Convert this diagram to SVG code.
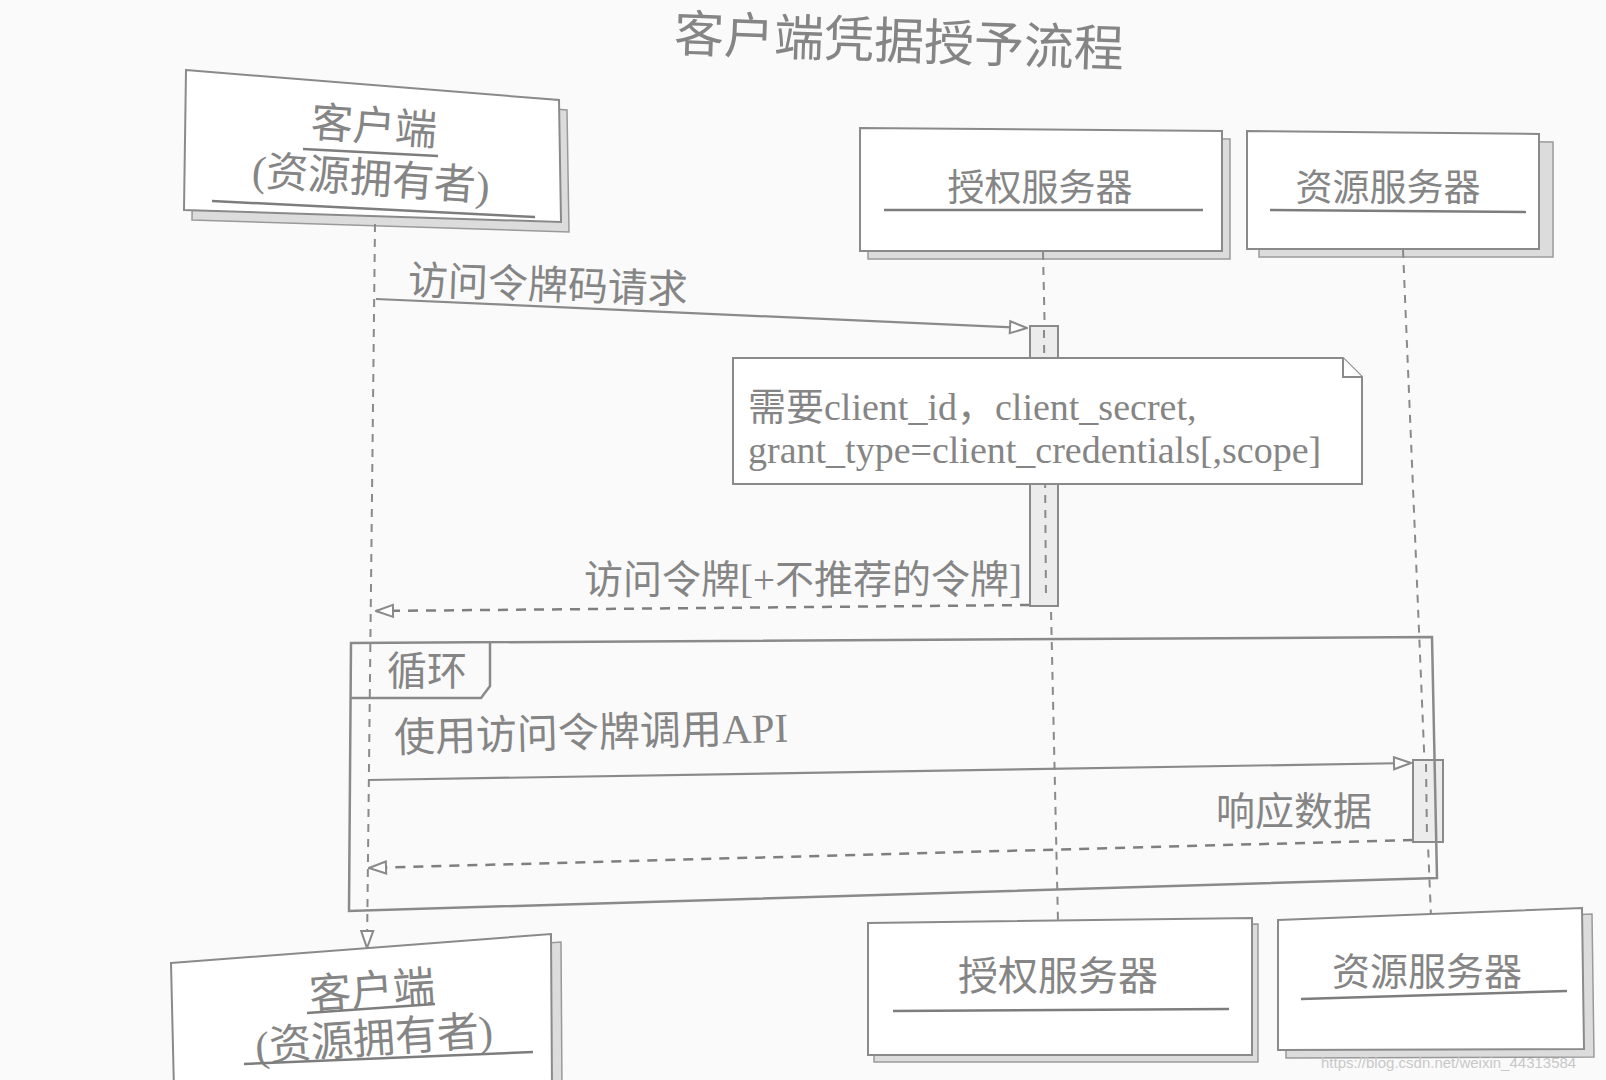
<svg xmlns="http://www.w3.org/2000/svg" width="1606" height="1080" viewBox="0 0 1606 1080">
<defs>
<style>
.bg{fill:#fafafa}
.box{fill:#ffffff;stroke:#8a8a8a;stroke-width:2}
.shadow{fill:#dcdcdc;stroke:#9a9a9a;stroke-width:1.5}
.ul{stroke:#7d7d7d;stroke-width:2.5;fill:none}
.cjk{font-family:"Liberation Serif","Noto Sans CJK SC",serif;fill:#858585}
.life{stroke:#8a8a8a;stroke-width:2;stroke-dasharray:8 7;fill:none}
.msg{stroke:#8a8a8a;stroke-width:2.2;fill:none}
.ret{stroke:#7f7f7f;stroke-width:2.5;stroke-dasharray:10 8;fill:none}
.act{fill:#ececec;stroke:#8a8a8a;stroke-width:2}
.frame{fill:none;stroke:#8a8a8a;stroke-width:2.5}
.note{fill:#ffffff;stroke:#8a8a8a;stroke-width:2}
</style>
<marker id="arr" viewBox="0 0 20 16" refX="19" refY="8" markerWidth="20" markerHeight="16" markerUnits="userSpaceOnUse" orient="auto">
<path d="M2,2 L19,8 L2,14 Z" fill="#ffffff" stroke="#8a8a8a" stroke-width="2"/>
</marker>
</defs>
<rect class="bg" x="0" y="0" width="1606" height="1080"/>

<text class="cjk" x="899" y="59" font-size="50" text-anchor="middle" fill="#9a9a9a" transform="rotate(2 899 42)">客户端凭据授予流程</text>

<g id="client-top">
<polygon class="shadow" points="194,80 567,110 569,232 192,220"/>
<polygon class="box" points="186,70 559,100 561,222 184,210"/>
<text class="cjk" x="374" y="141" font-size="42" text-anchor="middle" transform="rotate(4 374 126)">客户端</text>
<line class="ul" x1="303" y1="149" x2="438" y2="156"/>
<text class="cjk" x="371" y="193" font-size="42" text-anchor="middle" transform="rotate(4 371 178)">(资源拥有者)</text>
<line class="ul" x1="212" y1="201" x2="535" y2="217"/>
</g>

<g id="auth-top">
<polygon class="shadow" points="868,136 1230,139 1230,259 868,259"/>
<polygon class="box" points="860,128 1222,131 1222,251 860,251"/>
<text class="cjk" x="1040" y="201" font-size="37" text-anchor="middle">授权服务器</text>
<line class="ul" x1="884" y1="210" x2="1203" y2="210"/>
</g>

<g id="resource-top">
<polygon class="shadow" points="1259,139 1553,142 1553,257 1259,257"/>
<polygon class="box" points="1247,131 1539,134 1539,249 1247,249"/>
<text class="cjk" x="1388" y="201" font-size="37" text-anchor="middle">资源服务器</text>
<line class="ul" x1="1270" y1="210" x2="1526" y2="212"/>
</g>

<g id="connectors">
<line class="life" x1="375" y1="224" x2="367" y2="948" marker-end="url(#arr)"/>
<line class="life" x1="1043" y1="252" x2="1058" y2="922"/>
<line class="life" x1="1403" y1="250" x2="1431" y2="916"/>

<line class="msg" x1="376" y1="299" x2="1027" y2="328" marker-end="url(#arr)"/>
<line class="ret" x1="1030" y1="605" x2="376" y2="611" marker-end="url(#arr)"/>
<line class="msg" x1="369" y1="780" x2="1411" y2="763" marker-end="url(#arr)"/>
<line class="ret" x1="1413" y1="840" x2="369" y2="868" marker-end="url(#arr)"/>
</g>

<g id="auth-activation">
<rect class="act" x="1030" y="326" width="28" height="280"/>
<line class="life" x1="1044" y1="330" x2="1046" y2="600"/>
</g>

<g id="resource-activation">
<rect class="act" x="1413" y="760" width="30" height="82"/>
<line class="life" x1="1426" y1="764" x2="1427" y2="838"/>
</g>

<g id="note">
<polygon class="note" points="733,358 1343,358 1362,377 1362,484 733,484"/>
<polyline class="note" points="1343,358 1343,377 1362,377" fill="none"/>
<text class="cjk" x="748" y="420" font-size="38">需要client_id，client_secret,</text>
<text class="cjk" x="748" y="463" font-size="38">grant_type=client_credentials[,scope]</text>
</g>

<g id="labels">
<text class="cjk" x="408" y="294" font-size="40" transform="rotate(2 408 279)">访问令牌码请求</text>
<text class="cjk" x="1022" y="593" font-size="39" text-anchor="end">访问令牌[+不推荐的令牌]</text>
<text class="cjk" x="394" y="752" font-size="41" transform="rotate(-1.5 394 737)">使用访问令牌调用API</text>
<text class="cjk" x="1372" y="825" font-size="39" text-anchor="end">响应数据</text>
</g>

<g id="loop">
<polygon class="frame" points="351,643 1432,637 1437,878 349,911"/>
<polyline class="frame" points="351,698 481,698 490,686 490,643"/>
<text class="cjk" x="387" y="685" font-size="40">循环</text>
</g>

<g id="client-bottom">
<polygon class="shadow" points="181,971 561,942 562,1090 184,1090"/>
<polygon class="box" points="171,963 551,934 552,1090 174,1090"/>
<text class="cjk" x="372" y="1005" font-size="42" text-anchor="middle" transform="rotate(-4 372 990)">客户端</text>
<line class="ul" x1="307" y1="1013" x2="435" y2="1004"/>
<text class="cjk" x="374" y="1053" font-size="42" text-anchor="middle" transform="rotate(-4 374 1038)">(资源拥有者)</text>
<line class="ul" x1="244" y1="1064" x2="533" y2="1052"/>
</g>

<g id="auth-bottom">
<polygon class="shadow" points="874,929 1258,924 1258,1062 874,1062"/>
<polygon class="box" points="868,923 1252,918 1252,1055 868,1055"/>
<text class="cjk" x="1058" y="990" font-size="40" text-anchor="middle">授权服务器</text>
<line class="ul" x1="893" y1="1011" x2="1229" y2="1009"/>
</g>

<g id="resource-bottom">
<polygon class="shadow" points="1286,926 1592,914 1594,1057 1286,1058"/>
<polygon class="box" points="1278,920 1582,908 1584,1049 1278,1050"/>
<text class="cjk" x="1427" y="985" font-size="38" text-anchor="middle">资源服务器</text>
<line class="ul" x1="1301" y1="999" x2="1567" y2="991"/>
</g>

<text x="1321" y="1068" font-family="Liberation Sans, sans-serif" font-size="15" fill="#c8c8c8">https://blog.csdn.net/weixin_44313584</text>
</svg>
